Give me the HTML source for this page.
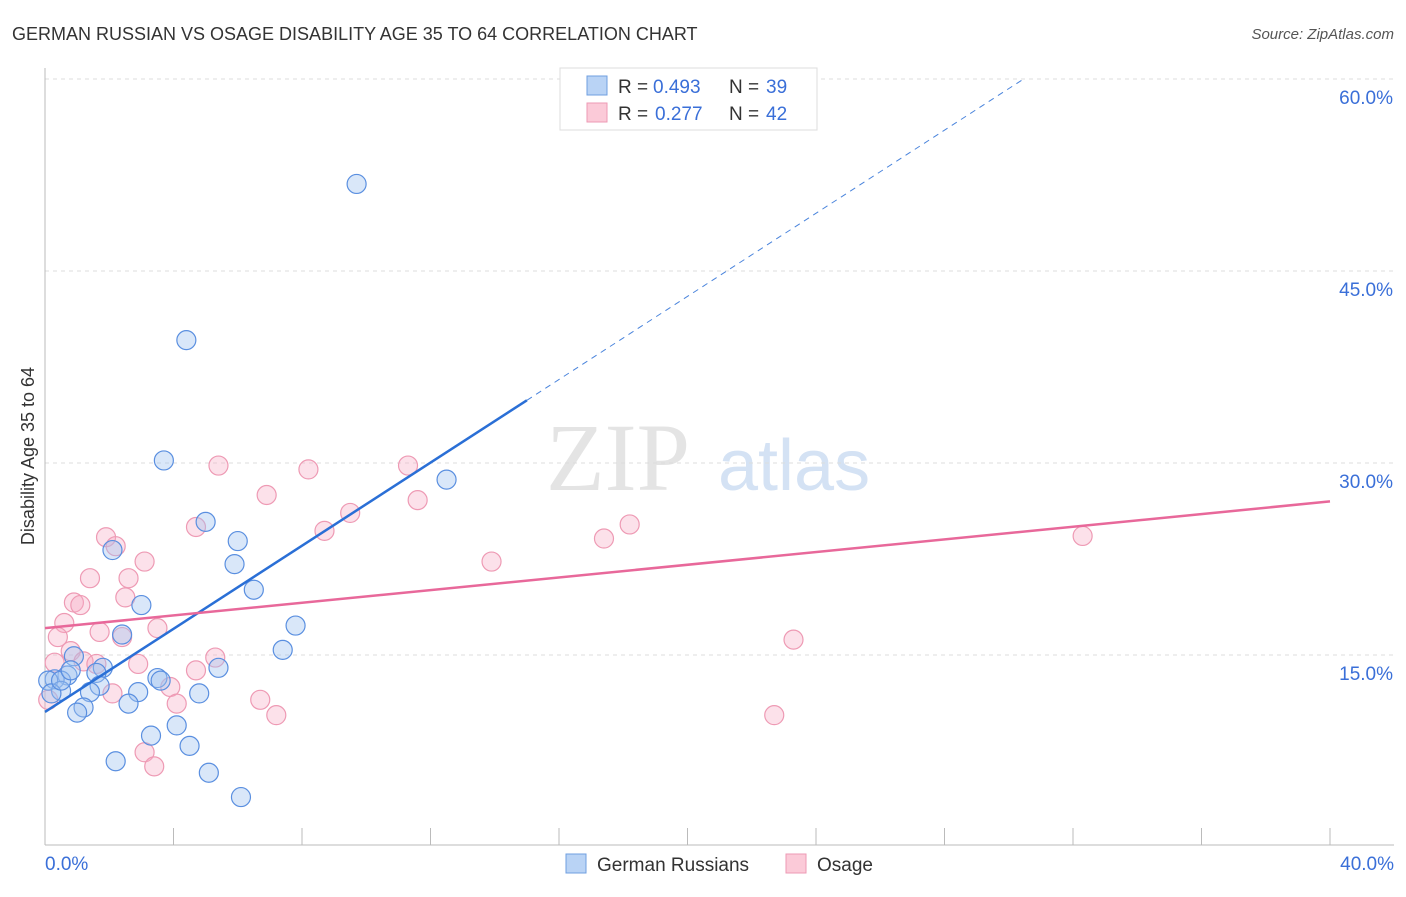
<!DOCTYPE html>
<html><head><meta charset="utf-8"><style>
body{margin:0;background:#fff;font-family:"Liberation Sans",sans-serif}
</style></head><body>
<svg id="c" width="1406" height="892" xmlns="http://www.w3.org/2000/svg">
<text x="12" y="40" font-size="18" fill="#333">GERMAN RUSSIAN VS OSAGE DISABILITY AGE 35 TO 64 CORRELATION CHART</text>
<text x="1394" y="39" font-size="15" fill="#555" font-style="italic" text-anchor="end">Source: ZipAtlas.com</text>
<text x="34" y="456" font-size="18" fill="#333" text-anchor="middle" transform="rotate(-90 34 456)">Disability Age 35 to 64</text>
<g><text x="690" y="490" font-size="96" fill="#e4e4e4" text-anchor="end" font-family="Liberation Serif,serif">ZIP</text><text x="718" y="490" font-size="72" fill="#d4e2f4">atlas</text></g>
<g id="grid"></g><g id="axes"></g><g id="marks"></g>
<g>
<rect x="560" y="68" width="257" height="62" fill="#fff" stroke="#ddd"/>
<rect x="587" y="76" width="20" height="19" fill="#b9d3f5" stroke="#6f9fe0"/>
<rect x="587" y="103" width="20" height="19" fill="#fbcad8" stroke="#ee9ab4"/>
<text y="93" font-size="19" fill="#333"><tspan x="618">R =</tspan><tspan x="653" fill="#3a6fd8">0.493</tspan><tspan x="729">N =</tspan><tspan x="766" fill="#3a6fd8">39</tspan></text>
<text y="120" font-size="19" fill="#333"><tspan x="618">R =</tspan><tspan x="655" fill="#3a6fd8">0.277</tspan><tspan x="729">N =</tspan><tspan x="766" fill="#3a6fd8">42</tspan></text>
</g>
<g>
<rect x="566" y="854" width="20" height="19" fill="#b9d3f5" stroke="#6f9fe0"/>
<text x="597" y="871" font-size="19" fill="#333">German Russians</text>
<rect x="786" y="854" width="20" height="19" fill="#fbcad8" stroke="#ee9ab4"/>
<text x="817" y="871" font-size="19" fill="#333">Osage</text>
</g>
</svg>
<script>
const yTicks=[15,30,45,60];
const xTickLabels=["0.0%","40.0%"];
const blueX=[9.7,4.4,3.7,12.5,5.0,6.0,2.1,5.9,6.5,3.0,7.8,2.4,7.4,0.9,1.8,5.4,1.6,0.7,0.3,0.1,3.5,3.6,1.7,0.5,1.4,2.9,4.8,2.6,1.2,1.0,4.1,3.3,4.5,2.2,5.1,6.1,0.2,0.5,0.8];
const blueY=[51.8,39.6,30.2,28.7,25.4,23.9,23.2,22.1,20.1,18.9,17.3,16.6,15.4,14.9,14.0,14.0,13.6,13.4,13.1,13.0,13.2,13.0,12.6,12.2,12.1,12.1,12.0,11.2,10.9,10.5,9.5,8.7,7.9,6.7,5.8,3.9,12.0,13.0,13.8];
const pinkX=[11.3,5.4,8.2,6.9,11.6,9.5,4.7,18.2,32.3,8.7,17.4,1.9,2.2,3.1,13.9,1.4,2.6,2.5,0.9,1.1,0.6,3.5,1.7,2.4,0.4,23.3,0.8,5.3,1.2,1.6,0.3,2.9,4.7,3.9,2.1,4.1,6.7,7.2,22.7,3.1,3.4,0.1];
const pinkY=[29.8,29.8,29.5,27.5,27.1,26.1,25.0,25.2,24.3,24.7,24.1,24.2,23.5,22.3,22.3,21.0,21.0,19.5,19.1,18.9,17.5,17.1,16.8,16.4,16.4,16.2,15.3,14.8,14.5,14.3,14.4,14.3,13.8,12.5,12.0,11.2,11.5,10.3,10.3,7.4,6.3,11.5];
const blueFit=[10.55,34.9]; // at x=0 and x=15
const pinkFit=[17.1,27.0]; // at x=0 and x=40
const NS="http://www.w3.org/2000/svg";
const X=v=>45+v*32.125, Y=v=>847-v*12.8;
function mk(t,a,p){const e=document.createElementNS(NS,t);for(const k in a)e.setAttribute(k,a[k]);document.getElementById(p).appendChild(e);return e;}
yTicks.forEach(t=>{
 const l=mk('line',{x1:45,x2:1394,y1:Y(t),y2:Y(t),stroke:'#ddd','stroke-dasharray':'4,4'},'grid');
 
 
 const tx=mk('text',{x:1393,y:Y(t)+25,'font-size':19,fill:'#3a6fd8','text-anchor':'end'},'axes');tx.textContent=t.toFixed(1)+'%';
 
 
});
mk('line',{x1:45,x2:45,y1:68,y2:845,stroke:'#bbb'},'axes');
mk('line',{x1:45,x2:1394,y1:845,y2:845,stroke:'#bbb'},'axes');
for(let i=1;i<=10;i++){const l=mk('line',{x1:X(i*4),x2:X(i*4),y1:828,y2:845,stroke:'#bbb'},'axes');
 
 }
const t0=mk('text',{x:45,y:870,'font-size':19,fill:'#3a6fd8'},'axes');t0.textContent=xTickLabels[0];


const t1=mk('text',{x:1394,y:870,'font-size':19,fill:'#3a6fd8','text-anchor':'end'},'axes');t1.textContent=xTickLabels[1];


pinkX.forEach((x,i)=>{const c=mk('circle',{cx:X(x),cy:Y(pinkY[i]),r:9.5,fill:'rgba(246,170,195,0.35)',stroke:'#ee9ab4','stroke-width':1.2},'marks');
 
 });
blueX.forEach((x,i)=>{const c=mk('circle',{cx:X(x),cy:Y(blueY[i]),r:9.5,fill:'rgba(160,196,240,0.4)',stroke:'#5a8fe0','stroke-width':1.2},'marks');
 
 });
const bs=(blueFit[1]-blueFit[0])/15;
const xEnd=(60-blueFit[0])/bs;
const bd=mk('line',{x1:X(15),y1:Y(blueFit[1]),x2:X(xEnd),y2:Y(60),stroke:'#4a84dc','stroke-width':1,'stroke-dasharray':'6,5'},'marks');


const bl=mk('line',{x1:X(0),y1:Y(blueFit[0]),x2:X(15),y2:Y(blueFit[1]),stroke:'#2a6fd6','stroke-width':2.5},'marks');


const pl=mk('line',{x1:X(0),y1:Y(pinkFit[0]),x2:X(40),y2:Y(pinkFit[1]),stroke:'#e8689a','stroke-width':2.5},'marks');


</script>
</body></html>
